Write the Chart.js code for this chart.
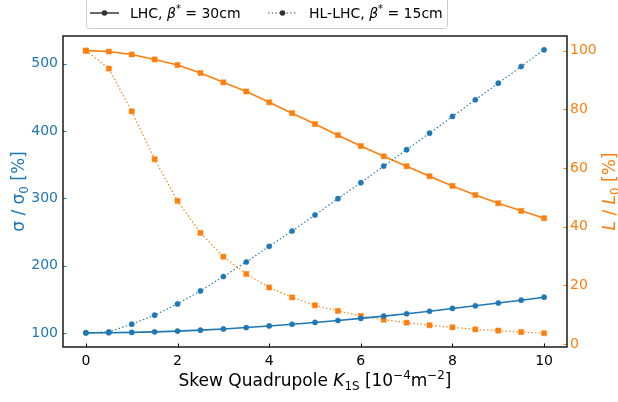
<!DOCTYPE html>
<html>
<head>
<meta charset="utf-8">
<script src="https://cdn.jsdelivr.net/npm/chart.js@4"></script>
<style>body{margin:0;background:#fff}</style>
</head>
<body>
<canvas id="chart" width="618" height="402"></canvas>
<script>
// skew quadrupole strength, 10^-4 m^-2
const k1s = [0, 0.5, 1, 1.5, 2, 2.5, 3, 3.5, 4, 4.5, 5, 5.5, 6, 6.5, 7, 7.5, 8, 8.5, 9, 9.5, 10];
// beam size ratio, %
const sigmaLHC = [100, 100.2, 100.7, 101.5, 102.6, 104, 105.8, 107.9, 110.3, 112.8, 115.5, 118.4, 121.5, 124.9, 128.4, 132.1, 136.3, 140.2, 144.4, 148.5, 153];
const sigmaHL = [100, 101.5, 112.9, 126.3, 143, 162.3, 183.7, 205.3, 228.6, 251.3, 275.1, 299.4, 323.1, 347.8, 372.1, 396.7, 421.5, 446.3, 470.9, 495.7, 520.5];
// luminosity ratio, %
const lumiLHC = [100, 99.7, 98.7, 97, 95.1, 92.4, 89.2, 86.1, 82.4, 78.7, 75, 71.2, 67.5, 64, 60.6, 57.2, 53.9, 50.8, 48, 45.4, 42.9];
const lumiHL = [100, 93.9, 79.3, 63, 48.8, 37.9, 29.8, 23.9, 19.3, 15.9, 13.2, 11.3, 9.6, 8.3, 7.3, 6.4, 5.7, 5, 4.6, 4.1, 3.7];

const xTicks = [0, 2, 4, 6, 8, 10];
const sigmaTicks = [100, 200, 300, 400, 500];
const lumiTicks = [0, 20, 40, 60, 80, 100];

const blue = '#1f77b4';
const orange = '#ff7f0e';
const family = '"DejaVu Sans", sans-serif';

function pts(ys) {
  return k1s.map((x, i) => ({x: x, y: ys[i]}));
}

// draws a line of text made of runs (italic / sub / sup)
function richText(ctx, runs, x, y, size, color, rot, align) {
  ctx.save();
  ctx.translate(x, y);
  ctx.rotate(rot || 0);
  ctx.fillStyle = color;
  ctx.textBaseline = 'alphabetic';
  ctx.textAlign = 'left';
  const fontOf = r => (r.it ? 'italic ' : '') + ((r.sub || r.sup) ? size * 0.7 : size) + 'px ' + family;
  let w = 0;
  runs.forEach(r => { ctx.font = fontOf(r); r.w = ctx.measureText(r.t).width; w += r.w; });
  let cx = align === 'left' ? 0 : -w / 2;
  runs.forEach(r => {
    ctx.font = fontOf(r);
    const dy = r.sub ? size * 0.22 : r.sup ? -size * 0.4 : 0;
    ctx.fillText(r.t, cx, dy);
    cx += r.w;
  });
  ctx.restore();
}

const frame = {
  id: 'frame',
  afterDatasetsDraw(chart) {
    const ctx = chart.ctx;
    const a = chart.chartArea;
    const sx = chart.scales.x, sy = chart.scales.y, sy2 = chart.scales.y2;
    ctx.save();
    ctx.lineWidth = 1;
    ctx.strokeStyle = '#000';
    xTicks.forEach(v => {
      const p = Math.round(sx.getPixelForValue(v)) + 0.5;
      ctx.beginPath(); ctx.moveTo(p, a.bottom); ctx.lineTo(p, a.bottom - 3.5); ctx.stroke();
    });
    ctx.strokeStyle = blue;
    sigmaTicks.forEach(v => {
      const p = Math.round(sy.getPixelForValue(v)) + 0.5;
      ctx.beginPath(); ctx.moveTo(a.left, p); ctx.lineTo(a.left + 3.5, p); ctx.stroke();
    });
    ctx.strokeStyle = orange;
    lumiTicks.forEach(v => {
      const p = Math.round(sy2.getPixelForValue(v)) + 0.5;
      ctx.beginPath(); ctx.moveTo(a.right, p); ctx.lineTo(a.right - 3.5, p); ctx.stroke();
    });
    ctx.strokeStyle = '#1a1a1a';
    ctx.lineWidth = 1.5;
    ctx.strokeRect(a.left, a.top, a.right - a.left, a.bottom - a.top);
    ctx.restore();
  },
  afterDraw(chart) {
    const ctx = chart.ctx;
    const a = chart.chartArea;
    const midY = (a.top + a.bottom) / 2;
    richText(ctx, [
      {t: 'Skew Quadrupole '}, {t: 'K', it: true}, {t: '1S', sub: true},
      {t: ' [10'}, {t: '\u22124', sup: true}, {t: 'm'}, {t: '\u22122', sup: true}, {t: ']'}
    ], (a.left + a.right) / 2, 386, 17, '#000');
    richText(ctx, [{t: '\u03c3 / \u03c3'}, {t: '0', sub: true}, {t: ' [%]'}], 24, midY, 17, blue, -Math.PI / 2);
    richText(ctx, [{t: 'L', it: true}, {t: ' / '}, {t: 'L', it: true}, {t: '0', sub: true}, {t: ' [%]'}], 615, midY, 17, orange, -Math.PI / 2);

    // legend
    ctx.save();
    ctx.fillStyle = 'rgba(255,255,255,0.85)';
    ctx.strokeStyle = '#cccccc';
    ctx.lineWidth = 1;
    ctx.beginPath();
    ctx.roundRect(86.5, -3.5, 361, 32, 3);
    ctx.fill();
    ctx.stroke();
    const ly = 13;
    ctx.strokeStyle = '#444';
    ctx.fillStyle = '#333';
    ctx.lineWidth = 1.6;
    ctx.beginPath(); ctx.moveTo(90, ly); ctx.lineTo(119, ly); ctx.stroke();
    ctx.beginPath(); ctx.arc(104.5, ly, 2.8, 0, Math.PI * 2); ctx.fill();
    ctx.lineWidth = 1.2;
    ctx.setLineDash([1.4, 2.3]);
    ctx.beginPath(); ctx.moveTo(268, ly); ctx.lineTo(297, ly); ctx.stroke();
    ctx.setLineDash([]);
    ctx.beginPath(); ctx.arc(282.5, ly, 2.8, 0, Math.PI * 2); ctx.fill();
    ctx.restore();
    richText(ctx, [{t: 'LHC, '}, {t: '\u03b2', it: true}, {t: '*', sup: true}, {t: ' = 30cm'}], 130, ly + 5, 14, '#000', 0, 'left');
    richText(ctx, [{t: 'HL-LHC, '}, {t: '\u03b2', it: true}, {t: '*', sup: true}, {t: ' = 15cm'}], 309, ly + 5, 14, '#000', 0, 'left');
  }
};

const tickFont = {family: family, size: 14};

new Chart(document.getElementById('chart'), {
  type: 'line',
  data: {
    datasets: [
      {label: 'LHC sigma', data: pts(sigmaLHC), yAxisID: 'y', borderColor: blue, backgroundColor: blue,
        borderWidth: 1.6, pointStyle: 'circle', pointRadius: 2.6, pointBorderWidth: 0.5},
      {label: 'HL-LHC sigma', data: pts(sigmaHL), yAxisID: 'y', borderColor: blue, backgroundColor: blue,
        borderWidth: 1.2, borderDash: [1.4, 2.3], pointStyle: 'circle', pointRadius: 2.6, pointBorderWidth: 0.5},
      {label: 'LHC lumi', data: pts(lumiLHC), yAxisID: 'y2', borderColor: orange, backgroundColor: orange,
        borderWidth: 1.6, pointStyle: 'rect', pointRadius: 3.6, pointBorderWidth: 0.5},
      {label: 'HL-LHC lumi', data: pts(lumiHL), yAxisID: 'y2', borderColor: orange, backgroundColor: orange,
        borderWidth: 1.2, borderDash: [1.4, 2.3], pointStyle: 'rect', pointRadius: 3.6, pointBorderWidth: 0.5}
    ]
  },
  options: {
    responsive: false,
    animation: false,
    devicePixelRatio: 1,
    layout: {padding: {top: 36, left: 0, right: 0, bottom: 0}},
    plugins: {legend: {display: false}, tooltip: {enabled: false}},
    scales: {
      x: {
        type: 'linear', min: -0.5, max: 10.5,
        afterBuildTicks: s => { s.ticks = xTicks.map(v => ({value: v})); },
        afterFit: s => { s.height = 55; },
        grid: {display: false, drawTicks: false},
        border: {display: false},
        ticks: {color: '#000', font: tickFont, padding: 6, maxRotation: 0}
      },
      y: {
        position: 'left', min: 79, max: 541,
        afterBuildTicks: s => { s.ticks = sigmaTicks.map(v => ({value: v})); },
        afterFit: s => { s.width = 63; },
        grid: {display: false, drawTicks: false},
        border: {display: false},
        ticks: {color: blue, font: tickFont, padding: 5}
      },
      y2: {
        position: 'right', min: -1, max: 105,
        afterBuildTicks: s => { s.ticks = lumiTicks.map(v => ({value: v})); },
        afterFit: s => { s.width = 51; },
        grid: {display: false, drawTicks: false},
        border: {display: false},
        ticks: {color: orange, font: tickFont, padding: 3}
      }
    }
  },
  plugins: [frame]
});
</script>
</body>
</html>
